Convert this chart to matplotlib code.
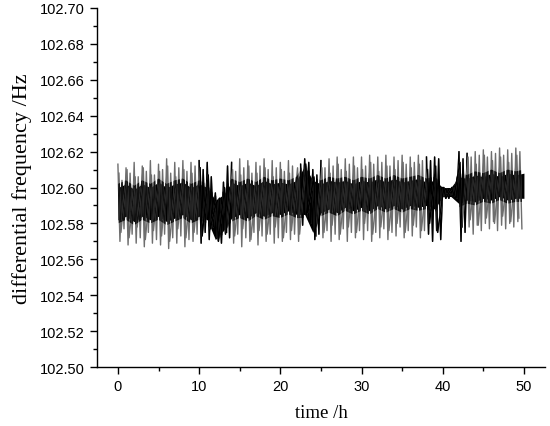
"""Differential frequency drift over a ~50 h run."""

import matplotlib

matplotlib.use("Agg")
import matplotlib.pyplot as plt
import numpy as np
from matplotlib.ticker import FormatStrFormatter, MultipleLocator

# spike tops, one every half hour starting at t = 0 h
peak_hi = [
    102.613, 102.604, 102.611, 102.608, 102.614, 102.606, 102.612, 102.609, 102.615, 102.607,
    102.613, 102.610, 102.616, 102.608, 102.614, 102.611, 102.615, 102.609, 102.614, 102.612,
    102.615, 102.610, 102.614, 102.606,
    102.597, 102.594, 102.603, 102.612,
    102.614, 102.609, 102.616, 102.611, 102.615, 102.608, 102.614, 102.612, 102.616, 102.610,
    102.615, 102.611,
    102.614, 102.609, 102.615, 102.612, 102.606, 102.613,
    102.616, 102.614, 102.610, 102.607,
    102.615, 102.611, 102.616, 102.612, 102.617, 102.610, 102.616, 102.613, 102.617, 102.611,
    102.617, 102.612, 102.618, 102.613, 102.617, 102.614, 102.618, 102.612, 102.617, 102.615,
    102.618, 102.613, 102.617, 102.614, 102.618, 102.615,
    102.617, 102.615, 102.617, 102.616,
    102.600, 102.599, 102.599, 102.601,
    102.620, 102.616, 102.619, 102.617, 102.620, 102.618, 102.621, 102.617, 102.620, 102.619,
    102.622, 102.618, 102.621, 102.619, 102.622, 102.620,
]

# spike bottoms, a quarter hour after each top
peak_lo = [
    102.570, 102.577, 102.568, 102.574, 102.569, 102.572, 102.567, 102.575, 102.569, 102.571,
    102.568, 102.574, 102.566, 102.572, 102.569, 102.573, 102.567, 102.571, 102.570, 102.574,
    102.569, 102.575, 102.571, 102.578,
    102.572, 102.569, 102.574, 102.572,
    102.569, 102.574, 102.567, 102.572, 102.570, 102.575, 102.568, 102.573, 102.570, 102.574,
    102.569, 102.572,
    102.570, 102.575, 102.571, 102.574, 102.570, 102.579,
    102.584, 102.580, 102.571, 102.574,
    102.572, 102.576, 102.570, 102.574, 102.571, 102.577, 102.570, 102.575, 102.572, 102.576,
    102.571, 102.576, 102.570, 102.575, 102.572, 102.577, 102.571, 102.575, 102.573, 102.578,
    102.572, 102.576, 102.573, 102.578, 102.572, 102.576,
    102.574, 102.570, 102.576, 102.571,
    102.595, 102.594, 102.595, 102.594,
    102.570, 102.575, 102.578, 102.574, 102.579, 102.576, 102.580, 102.577, 102.581, 102.576,
    102.579, 102.577, 102.580, 102.578, 102.581, 102.577,
]

# smaller in-between spikes, hourly
sec_hi = [
    102.608, 102.610, 102.606, 102.611, 102.607, 102.609, 102.612, 102.606, 102.610, 102.608,
    102.611, 102.607, 102.592, 102.600,
    102.610, 102.607, 102.612, 102.608, 102.611, 102.606, 102.610, 102.608, 102.611,
    102.613, 102.606,
    102.611, 102.608, 102.613, 102.609, 102.612, 102.610, 102.614, 102.609, 102.612, 102.610,
    102.614, 102.611, 102.613, 102.610, 102.612,
    102.600, 102.600,
    102.614, 102.617, 102.613, 102.618, 102.615, 102.617, 102.614, 102.618,
]
sec_lo = [
    102.575, 102.572, 102.578, 102.571, 102.576, 102.573, 102.570, 102.577, 102.572, 102.575,
    102.573, 102.577, 102.570, 102.575,
    102.573, 102.577, 102.571, 102.576, 102.574, 102.578, 102.572, 102.576, 102.574,
    102.586, 102.573,
    102.575, 102.579, 102.574, 102.578, 102.575, 102.580, 102.574, 102.578, 102.576, 102.580,
    102.575, 102.579, 102.576, 102.580, 102.575,
    102.594, 102.595,
    102.578, 102.582, 102.579, 102.583, 102.580, 102.584, 102.581, 102.583,
]

# dense black core band, hourly
core_hi = [
    102.600, 102.602, 102.599, 102.602, 102.600, 102.603, 102.600, 102.602, 102.603, 102.600,
    102.602, 102.600, 102.593, 102.596, 102.603, 102.601, 102.603, 102.601, 102.604, 102.602,
    102.603, 102.602, 102.604, 102.612, 102.604, 102.602, 102.604, 102.603, 102.604, 102.602,
    102.604, 102.603, 102.605, 102.603, 102.605, 102.603, 102.604, 102.605, 102.603, 102.604,
    102.600, 102.600, 102.606, 102.605, 102.607, 102.606, 102.608, 102.606, 102.608, 102.607,
    102.608,
]
core_lo = [
    102.582, 102.584, 102.581, 102.584, 102.582, 102.584, 102.581, 102.583, 102.585, 102.582,
    102.584, 102.582, 102.571, 102.576, 102.583, 102.585, 102.583, 102.586, 102.584, 102.586,
    102.585, 102.587, 102.585, 102.585, 102.575, 102.586, 102.588, 102.586, 102.589, 102.587,
    102.589, 102.587, 102.590, 102.588, 102.590, 102.588, 102.590, 102.589, 102.590, 102.588,
    102.595, 102.595, 102.591, 102.593, 102.592, 102.594, 102.593, 102.595, 102.593, 102.594,
    102.594,
]

dark_spans = [(10.0, 14.0), (22.5, 25.0), (38.0, 43.0)]

t_hi = np.arange(len(peak_hi)) * 0.5
t_lo = t_hi + 0.25
t_sec = np.arange(len(sec_hi)) * 1.0
t_core = np.arange(len(core_hi)) * 1.0

# interleave tops and bottoms into traces
t_main = np.column_stack([t_hi, t_lo]).ravel()
v_main = np.column_stack([peak_hi, peak_lo]).ravel()
t_aux = np.column_stack([t_sec + 0.125, t_sec + 0.375]).ravel()
v_aux = np.column_stack([sec_hi, sec_lo]).ravel()

plt.rcParams["font.family"] = ["Liberation Sans", "DejaVu Sans"]

fig = plt.figure(figsize=(5.5, 4.27), dpi=100)
ax = fig.add_axes([0.176, 0.138, 0.815, 0.841])

band = ax.fill_between(t_core, np.array(core_lo) - 0.002, np.array(core_hi) + 0.002,
                       color="none", lw=0)
band_path = band.get_paths()[0]

for tt, vv in ((t_main, v_main), (t_aux, v_aux)):
    ax.plot(tt, vv, color="#6e6e6e", lw=1.0)
    inner, = ax.plot(tt, vv, color="#111111", lw=1.0)
    inner.set_clip_path(band_path, transform=ax.transData)
    for a, b in dark_spans:
        m = (tt >= a) & (tt <= b)
        ax.plot(tt[m], vv[m], color="black", lw=1.0)
ax.fill_between(t_core, core_lo, core_hi, color="black", lw=0)

ax.set_xlim(-2.6, 52.6)
ax.set_ylim(102.50, 102.70)
ax.xaxis.set_major_locator(MultipleLocator(10))
ax.xaxis.set_minor_locator(MultipleLocator(5))
ax.yaxis.set_major_locator(MultipleLocator(0.02))
ax.yaxis.set_minor_locator(MultipleLocator(0.01))
ax.yaxis.set_major_formatter(FormatStrFormatter("%.2f"))
ax.tick_params(which="major", direction="out", length=5, width=1, labelsize=10.5)
ax.tick_params(which="minor", direction="out", length=3, width=1)
for side in ("top", "right"):
    ax.spines[side].set_visible(False)
for side in ("left", "bottom"):
    ax.spines[side].set_linewidth(1.0)

ax.set_xlabel("time /h", family="Liberation Serif", fontsize=13.5, labelpad=8)
ax.set_ylabel("differential frequency /Hz", family="Liberation Serif", fontsize=16, labelpad=6)

fig.savefig("out.png", dpi=100)
plt.close(fig)
